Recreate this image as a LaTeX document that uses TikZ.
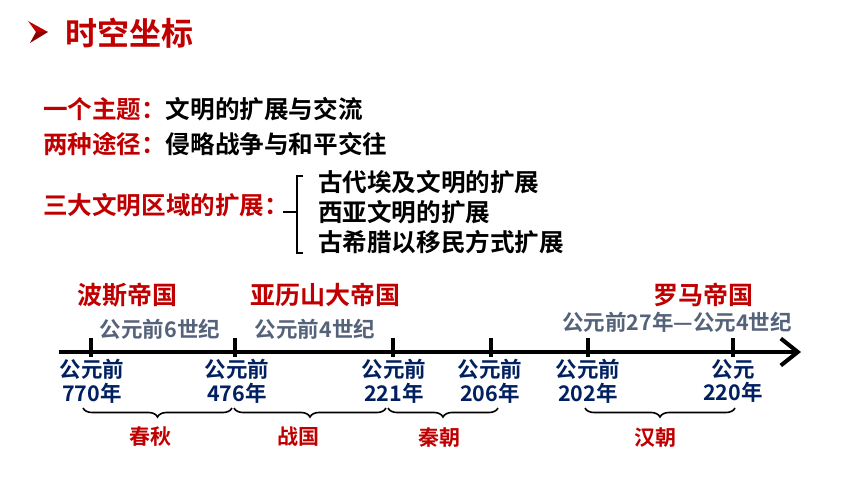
\documentclass[tikz,border=0pt]{standalone}
\usepackage{fontspec}
\setmainfont{Noto Sans CJK SC}[BoldFont={Noto Sans CJK SC Bold}]
\usetikzlibrary{decorations.pathreplacing,arrows.meta}
\definecolor{myred}{RGB}{192,0,0}
\definecolor{navy}{RGB}{0,32,96}
\definecolor{slate}{RGB}{84,98,122}
\begin{document}
\begin{tikzpicture}[x=1pt,y=-1pt,
  base/.style={inner sep=0pt, outer sep=0pt},
  titletxt/.style={base, anchor=west, text=myred, text height=28pt, text depth=4pt, font=\bfseries\fontsize{32}{36}\selectfont},
  bodytxt/.style={base, anchor=west, text height=21.5pt, text depth=3pt, font=\bfseries\fontsize{24.6}{30}\selectfont},
  listtxt/.style={base, anchor=west, align=left, font=\bfseries\fontsize{24.6}{30}\selectfont},
  empire/.style={base, text=myred, text height=22pt, text depth=3pt, font=\bfseries\fontsize{25}{28}\selectfont},
  era/.style={base, text=slate, text height=19pt, text depth=2.5pt, font=\bfseries\fontsize{21.5}{24}\selectfont},
  datelbl/.style={base, text=navy, align=center, font=\bfseries\fontsize{21.5}{24}\selectfont},
  dynasty/.style={base, text=myred, text height=18.5pt, text depth=2.5pt, font=\bfseries\fontsize{21}{24}\selectfont},
  brc/.style={draw=black, line width=1.6pt, decorate, decoration={brace, mirror, amplitude=9pt}},
  tick/.style={line width=3.5pt},
  axis/.style={line width=4pt, -{Straight Barb[length=17pt,width=27pt]}},
  bracket/.style={line width=2.4pt}
]
\useasboundingbox (0,0) rectangle (860,484);
% title
\fill[myred] (28,21) -- (48,32) -- (36,32) -- cycle;
\fill[myred!75!black] (36,32) -- (48,32) -- (30,43) -- cycle;
\node[titletxt] (ttl) at (65,34) {时空坐标};
% text rows
\node[bodytxt] (r1) at (43,109) {\textcolor{myred}{一个主题：}文明的扩展与交流};
\node[bodytxt] (r2) at (43,144) {\textcolor{myred}{两种途径：}侵略战争与和平交往};
\node[bodytxt, text=myred] (r3) at (43,205) {三大文明区域的扩展：};
\node[listtxt] (lst) at (318,212) {古代埃及文明的扩展\\西亚文明的扩展\\古希腊以移民方式扩展};
% bracket
\coordinate (bT) at (297,176);
\coordinate (bB) at (297,253);
\coordinate (bM) at (297,212);
\coordinate (bS) at (283,212);
\draw[bracket] ([xshift=6pt]bT) -- (bT) -- (bB) -- ([xshift=6pt]bB);
\draw[bracket] (bS) -- (bM);
% axis
\coordinate (axL) at (59,352);
\coordinate (axR) at (801,352);
\draw[axis] (axL) -- (axR);
\foreach \x in {91,235,393,491,588,733} {
  \draw[tick] (\x,338) -- (\x,357);
}
% date labels
\node[datelbl] (d1) at (92,381) {公元前\\770年};
\node[datelbl] (d2) at (237,381) {公元前\\476年};
\node[datelbl] (d3) at (394,381) {公元前\\221年};
\node[datelbl] (d4) at (490,381) {公元前\\206年};
\node[datelbl] (d5) at (588,381) {公元前\\202年};
\node[datelbl] (d6) at (733,381) {公元\\220年};
% empires
\node[empire] (e1) at (127,295) {波斯帝国};
\node[era] (p1) at (160,329) {公元前6世纪};
\node[empire] (e2) at (325,295) {亚历山大帝国};
\node[era] (p2) at (315,329) {公元前4世纪};
\node[empire] (e3) at (703,295) {罗马帝国};
\node[era] (p3) at (677,322) {公元前27年—公元4世纪};
% braces
\draw[brc] (83,408) -- (232,408);
\draw[brc] (234,408) -- (386,408);
\draw[brc] (388,408) -- (498,408);
\draw[brc] (585,408) -- (735,408);
\node[dynasty] (y1) at (150,436) {春秋};
\node[dynasty] (y2) at (298,436) {战国};
\node[dynasty] (y3) at (439,437) {秦朝};
\node[dynasty] (y4) at (655,437) {汉朝};
\end{tikzpicture}
\end{document}
